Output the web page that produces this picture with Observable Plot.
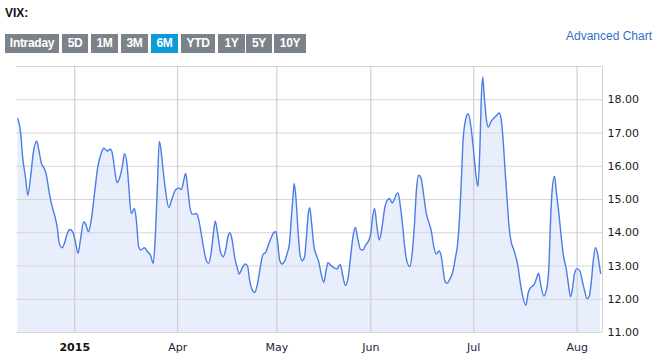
<!DOCTYPE html>
<html>
<head>
<meta charset="utf-8">
<script src="https://cdn.jsdelivr.net/npm/d3@7"></script>
<script src="https://cdn.jsdelivr.net/npm/@observablehq/plot@0.6"></script>
<style>
  html, body { margin: 0; padding: 0; background: #fff; overflow: hidden; }
  #wrap { position: relative; width: 664px; height: 364px; }
  #header { position: relative; width: 664px; height: 56px; font-family: "Liberation Sans", Arial, sans-serif; }
  #title { position: absolute; left: 5px; top: 6px; font-size: 12px; font-weight: bold; color: #111; }
  .btn { position: absolute; top: 34px; height: 19px; line-height: 19px; font-size: 12px; font-weight: bold; letter-spacing: -0.3px; color: #fff; background: #7b8289; text-align: center; }
  .btn.sel { background: #0a9bd8; }
  #adv { position: absolute; left: 566px; top: 29px; font-size: 12px; color: #3370c4; }
  #chart svg { display: block; }
</style>
</head>
<body>
<div id="wrap">
  <div id="header">
    <div id="title">VIX:</div>
    <div id="adv">Advanced Chart</div>
  </div>
  <div id="chart"></div>
</div>
<script>
// Range buttons
const ranges = ["Intraday", "5D", "1M", "3M", "6M", "YTD", "1Y", "5Y", "10Y"];
const selectedRange = "6M";
const btnLeft = [5, 62, 91, 121, 151, 181, 218, 246, 274];
const btnWidth = [54, 26, 27, 27, 27, 34, 27, 26, 32];

// Trading-day position (from start of 6M window) and VIX value
const day = [0.3, 0.9, 1.3, 1.9, 2.4, 3.0, 3.6, 4.3, 4.7, 5.3, 5.8, 6.3, 7.0, 7.6, 8.1, 8.7, 9.1, 9.7, 10.2, 10.8,
  11.4, 12.1, 12.6, 13.1, 13.6, 14.3, 14.8, 15.3, 15.9, 16.6, 17.3, 18.0, 18.6, 19.3, 20.0, 20.4, 20.9, 21.4, 21.9, 22.5,
  23.0, 23.5, 23.9, 24.4, 24.7, 25.1, 25.5, 26.0, 26.5, 27.2, 27.9, 28.5, 29.1, 29.5, 29.9, 30.4, 30.9, 31.2, 31.7, 32.4,
  33.1, 33.8, 34.5, 35.1, 35.6, 36.0, 36.4, 36.9, 37.4, 37.9, 38.3, 38.8, 39.3, 39.9, 40.4, 40.9, 41.4, 41.9, 42.3, 42.8,
  43.4, 44.0, 44.5, 45.0, 45.4, 45.9, 46.4, 47.0, 47.4, 48.0, 48.7, 49.2, 49.6, 50.1, 50.7, 51.3, 51.9, 52.4, 53.1, 53.7,
  54.3, 54.7, 55.2, 55.6, 56.0, 56.5, 57.0, 57.6, 58.1, 58.5, 58.9, 59.1, 59.5, 59.9, 60.3, 60.8, 61.3, 61.7, 62.1, 62.4,
  62.8, 63.3, 63.8, 64.3, 64.8, 65.4, 65.9, 66.3, 66.8, 67.5, 68.2, 68.9, 69.4, 70.0, 70.6, 71.1, 71.6, 72.1, 72.6, 73.2,
  73.7, 74.3, 75.0, 75.4, 75.8, 76.2, 76.7, 77.2, 77.8, 78.4, 78.9, 79.4, 79.9, 80.4, 80.8, 81.2, 81.7, 82.2, 82.6, 83.1,
  83.7, 84.2, 84.7, 85.1, 85.6, 86.1, 86.7, 87.2, 87.7, 88.3, 88.8, 89.3, 89.9, 90.4, 90.8, 91.1, 91.6, 92.2, 92.8, 93.4,
  93.9, 94.3, 94.7, 95.0, 95.5, 96.1, 96.6, 97.1, 97.5, 97.9, 98.2, 98.6, 98.9, 99.2, 99.6, 100.0, 100.4, 101.0, 101.6, 102.1,
  102.7, 103.1, 103.6, 104.0, 104.4, 104.8, 105.3, 105.8, 106.3, 106.7, 107.2, 107.7, 108.4, 108.9, 109.4, 110.1, 110.6, 111.1, 111.6, 112.2,
  112.8, 113.3, 113.6, 114.0, 114.5, 114.9, 115.4, 115.9, 116.4, 117.0, 117.4, 117.9, 118.3, 118.7, 119.3, 119.9, 120.4, 120.9, 121.4, 121.9,
  122.3, 122.7, 123.2, 123.6, 124.0, 124.3];
const vix = [17.43, 16.98, 16.28, 15.68, 15.13, 15.68, 16.43, 16.75, 16.53, 16.08, 15.96, 15.78, 15.18, 14.78, 14.53, 14.13, 13.68, 13.55, 13.68, 13.98,
  14.10, 13.98, 13.68, 13.38, 13.78, 14.33, 14.23, 14.03, 14.38, 15.18, 15.98, 16.38, 16.54, 16.46, 16.51, 16.38, 15.88, 15.50, 15.63, 15.98,
  16.38, 16.08, 15.38, 14.58, 14.63, 14.73, 14.38, 13.58, 13.48, 13.55, 13.43, 13.33, 13.08, 13.78, 15.08, 16.75, 16.30, 15.88, 15.28, 14.76,
  15.03, 15.28, 15.35, 15.30, 15.58, 15.78, 15.38, 14.78, 14.56, 14.56, 14.58, 14.38, 13.98, 13.48, 13.16, 13.08, 13.38, 13.98, 14.35, 13.98,
  13.43, 13.28, 13.48, 13.88, 14.00, 13.78, 13.28, 12.93, 12.76, 12.93, 13.06, 12.98, 12.58, 12.30, 12.20, 12.48, 12.98, 13.33, 13.43, 13.68,
  13.88, 14.00, 14.03, 13.68, 13.18, 13.06, 13.13, 13.38, 13.68, 14.48, 15.18, 15.48, 14.98, 14.08, 13.38, 13.16, 13.28, 13.88, 14.58, 14.75,
  14.28, 13.58, 13.33, 13.13, 12.78, 12.51, 12.88, 13.10, 13.03, 12.95, 12.91, 13.05, 12.73, 12.41, 12.68, 13.28, 13.88, 14.16, 13.83, 13.50,
  13.48, 13.63, 13.78, 13.98, 14.48, 14.73, 14.18, 13.78, 14.18, 14.78, 14.98, 15.03, 14.90, 15.00, 15.15, 15.20, 14.78, 14.18, 13.58, 13.13,
  12.98, 13.38, 14.28, 15.28, 15.73, 15.63, 15.08, 14.58, 14.33, 14.03, 13.58, 13.36, 13.45, 13.28, 12.88, 12.58, 12.48, 12.60, 12.80, 13.25,
  13.70, 14.50, 15.70, 16.70, 17.35, 17.58, 17.30, 16.70, 16.10, 15.60, 15.40, 16.50, 18.00, 18.68, 18.00, 17.40, 17.18, 17.35, 17.45, 17.52,
  17.60, 17.45, 16.70, 15.80, 15.00, 14.20, 13.70, 13.50, 13.25, 13.00, 12.50, 12.10, 11.82, 12.20, 12.35, 12.43, 12.60, 12.78, 12.40, 12.10,
  12.30, 13.00, 14.20, 15.30, 15.70, 15.20, 14.60, 13.90, 13.30, 12.90, 12.50, 12.08, 12.30, 12.75, 12.92, 12.85, 12.55, 12.25, 12.02, 12.10,
  12.50, 13.10, 13.55, 13.40, 13.05, 12.78];

// Axis ticks
const xTickDays = [12.4, 34.3, 55.4, 75.4, 97.3, 119.3];
const xTickLabels = ["2015", "Apr", "May", "Jun", "Jul", "Aug"];
const yGrid = [11, 12, 13, 14, 15, 16, 17, 18, 19];
const yLabels = [11, 12, 13, 14, 15, 16, 17, 18];
const xDomain = [0, 124.7];
const yDomain = [11, 19];

// Header buttons
const header = document.getElementById("header");
ranges.forEach((r, i) => {
  const b = document.createElement("div");
  b.className = "btn" + (r === selectedRange ? " sel" : "");
  b.style.left = btnLeft[i] + "px";
  b.style.width = btnWidth[i] + "px";
  b.textContent = r;
  header.appendChild(b);
});

const data = day.map((d, i) => ({day: d, vix: vix[i]}));
const font = "'DejaVu Sans', Verdana, sans-serif";

const chart = Plot.plot({
  width: 664,
  height: 308,
  marginTop: 10,
  marginBottom: 32,
  marginLeft: 16,
  marginRight: 62,
  style: {fontFamily: font, fontSize: "11px", background: "#fff"},
  x: {domain: xDomain},
  y: {domain: yDomain},
  marks: [
    Plot.areaY(data, {x: "day", y1: yDomain[0], y2: "vix", fill: "#e8eefc", curve: "monotone-x"}),
    Plot.gridY({ticks: yGrid, stroke: "#d6d6d6", strokeOpacity: 1}),
    Plot.gridX({ticks: xTickDays, stroke: "#c8c8c8", strokeOpacity: 1}),
    Plot.ruleX([xDomain[1]], {stroke: "#d0d0d0"}),
    Plot.lineY(data, {x: "day", y: "vix", stroke: "#4a7de6", strokeWidth: 1.4, curve: "monotone-x"}),
    Plot.axisY({anchor: "right", ticks: yLabels, tickFormat: d => d.toFixed(2), tickSize: 0, tickPadding: 5, label: null, fill: "#1a1a2a"}),
    Plot.axisX({ticks: xTickDays.slice(0, 1), tickFormat: (d) => xTickLabels[0], tickSize: 0, tickPadding: 11, label: null, fontWeight: "bold", fill: "#111"}),
    Plot.axisX({ticks: xTickDays.slice(1), tickFormat: (d) => xTickLabels[xTickDays.indexOf(d)], tickSize: 0, tickPadding: 11, label: null, fill: "#2a1a3a"})
  ]
});
document.getElementById("chart").appendChild(chart);
</script>
</body>
</html>
